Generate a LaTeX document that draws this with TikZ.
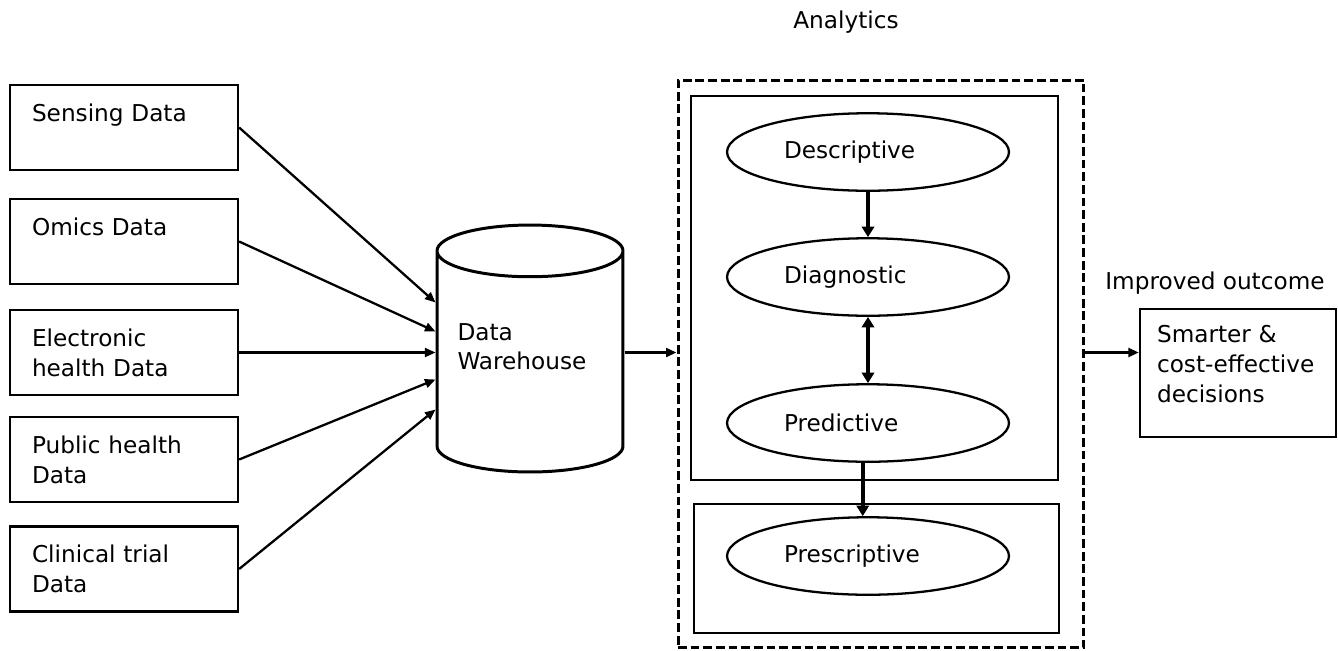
\documentclass[tikz,border=0pt]{standalone}
\usepackage{fontspec}
\setmainfont{DejaVu Sans}
\usetikzlibrary{shapes.geometric,arrows.meta,positioning,calc}

\begin{document}
\begin{tikzpicture}[x=0.02cm, y=-0.02cm,
    every node/.style={font=\fontsize{13.2}{17}\selectfont},
    srcbox/.style={draw, line width=1.3pt, rectangle, minimum width=4.56cm, minimum height=1.7cm, text width=3.68cm, inner xsep=0.44cm, align=left},
    stage/.style={draw, line width=1.3pt, ellipse, minimum width=5.64cm, minimum height=1.55cm, text width=3.36cm, align=left},
    panel/.style={draw, line width=1.3pt},
    feed/.style={line width=1.3pt, -{Triangle[length=6pt, width=5pt]}},
    bigfeed/.style={line width=2.4pt, -{Triangle[length=6pt, width=7pt]}}]
    \useasboundingbox (0,0) rectangle (1338,650);

    % data sources
    \node[srcbox] (sens) at (124,127.5) {Sensing Data\\\mbox{}};
    \node[srcbox] (omic) at (124,241.5) {Omics Data\\\mbox{}};
    \node[srcbox] (elec) at (124,352.5) {Electronic\\health Data};
    \node[srcbox] (publ) at (124,459.5) {Public health\\Data};
    \node[srcbox] (clin) at (124,569) {Clinical trial\\Data};

    % warehouse
    \node[draw, line width=1.7pt, cylinder, shape border rotate=90, aspect=0.33, minimum width=3.72cm, minimum height=4.94cm, text width=2.9cm, align=left, anchor=shape center] (wh) at (530,348.5) {Data\\Warehouse\\[6pt]\mbox{}};

    \draw[feed] (sens.east) -- ($(wh.shape center -| wh.west)+(0,-46)$);
    \draw[feed] (omic.east) -- ($(wh.shape center -| wh.west)+(0,-17)$);
    \draw[feed] (elec.east) -- (elec.east -| wh.west);
    \draw[feed] (publ.east) -- ($(wh.shape center -| wh.west)+(0,31)$);
    \draw[feed] (clin.east) -- ($(wh.shape center -| wh.west)+(0,61)$);

    % analytics
    \node (anatitle) at (846,22) {Analytics};
    \node[draw, line width=1.7pt, dash pattern=on 5pt off 2.2pt, minimum width=8.12cm, minimum height=11.36cm] (ana) at (881,364) {};
    \draw[panel] (691,96) rectangle (1058,480);
    \draw[panel] (694,504) rectangle (1059,633);

    \node[stage] (desc) at (868,152) {Descriptive};
    \node[stage] (diag) at (868,277) {Diagnostic};
    \node[stage] (pred) at (868,423) {Predictive};
    \node[stage] (pres) at (868,556) {Prescriptive};

    \draw[bigfeed] (desc) -- (diag);
    \draw[bigfeed, {Triangle[length=6pt, width=7pt]}-{Triangle[length=6pt, width=7pt]}] (diag) -- (pred);
    \draw[bigfeed] ([xshift=-3pt]pred.south) -- ([xshift=-3pt]pres.north);

    \coordinate (whout) at ($(wh.shape center -| wh.east)+(0,4)$);
    \draw[feed, line width=1.7pt] (whout) -- (whout -| ana.west);

    % outcome
    \node[srcbox, minimum width=3.92cm, minimum height=2.56cm, text width=3.24cm, inner xsep=0.34cm] (smart) at (1238,373) {Smarter \&\\cost-effective\\decisions\\[-7pt]\mbox{}};
    \node (outtitle) at (1215,283) {Improved outcome};
    \draw[feed, line width=1.7pt] (whout -| ana.east) -- (whout -| smart.west);
\end{tikzpicture}
\end{document}
